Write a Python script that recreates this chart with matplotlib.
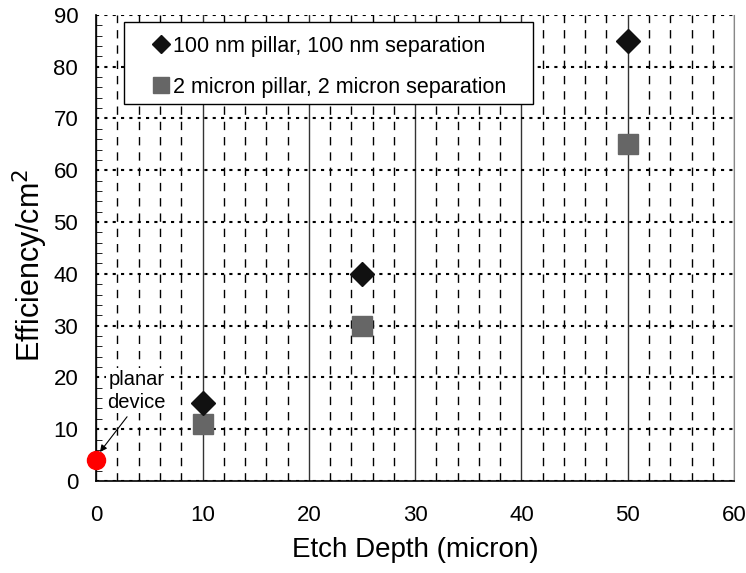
import matplotlib.pyplot as plt
import numpy as np
from matplotlib.lines import Line2D
from matplotlib.patches import Rectangle

plt.rcParams['font.family'] = ['Liberation Sans', 'DejaVu Sans']

depth = [10, 25, 50]
eff_100nm = [15, 40, 85]
eff_2um = [11, 30, 65]
planar_x = [0]
planar_y = [4]

fig = plt.figure(figsize=(7.46, 5.73), dpi=100)
ax = fig.add_axes([0.129, 0.1606, 0.855, 0.8134])

ax.set_xlim(0, 60)
ax.set_ylim(0, 90)
ax.set_xticks(np.arange(0, 61, 10))
ax.set_yticks(np.arange(0, 91, 10))
ax.set_xticks(np.arange(0, 61, 2), minor=True)
ax.set_yticks(np.arange(0, 91, 2), minor=True)

ax.grid(True, which='major', axis='x', color='#333333', lw=1.0, ls='-')
ax.grid(True, which='minor', axis='x', color='black', lw=1.0, ls=(0, (6, 5)))
ax.grid(True, which='major', axis='y', color='black', lw=1.5, ls=(0, (1.5, 2.5)))
ax.set_axisbelow(True)

ax.tick_params(which='major', direction='in', length=0, labelsize=16)
ax.tick_params(axis='y', pad=13)
ax.tick_params(axis='x', pad=17)
ax.tick_params(which='minor', direction='in', length=4, left=True, bottom=False)

ax.spines['top'].set_visible(False)
ax.spines['right'].set_color('#888888')
ax.spines['left'].set_linewidth(1.2)
ax.spines['bottom'].set_linewidth(1.2)

ax.plot(depth, eff_2um, ls='none', marker='s', ms=15, color='#666666', zorder=3)
ax.plot(depth, eff_100nm, ls='none', marker='D', ms=12, color='#111111', zorder=4)
ax.plot(planar_x, planar_y, ls='none', marker='o', ms=13, color='red', zorder=5, clip_on=False)

ax.text(3.8, 13.4, 'planar\ndevice', fontsize=14.5, ha='center', va='bottom', linespacing=1.25,
        bbox=dict(fc='white', ec='none', pad=1), zorder=5)
ax.annotate('', xy=(0.35, 5.6), xytext=(2.9, 12.4),
            arrowprops=dict(arrowstyle='-|>', color='black', lw=0.8, mutation_scale=10,
                            shrinkA=0, shrinkB=0), zorder=5)

# legend box drawn separately so the inner padding can match
ax.add_patch(Rectangle((0.044, 0.809), 0.641, 0.176, transform=ax.transAxes,
                       fc='white', ec='black', lw=1.0, zorder=6))
handles = [Line2D([], [], ls='none', marker='D', ms=9, color='#111111'),
           Line2D([], [], ls='none', marker='s', ms=11, color='#666666')]
leg = ax.legend(handles, ['100 nm pillar, 100 nm separation', '2 micron pillar, 2 micron separation'],
                loc='upper left', bbox_to_anchor=(0.086, 0.955), fontsize=15.5, frameon=False,
                handletextpad=0.1, handlelength=0.9, borderpad=0, labelspacing=0.92,
                borderaxespad=0)
leg.set_zorder(7)

ax.set_xlabel('Etch Depth (micron)', fontsize=20, labelpad=8)
ax.set_ylabel('Efficiency/cm$^2$', fontsize=22)
ax.yaxis.set_label_coords(-0.072, 0.4635)

plt.savefig('out.png', dpi=100)
